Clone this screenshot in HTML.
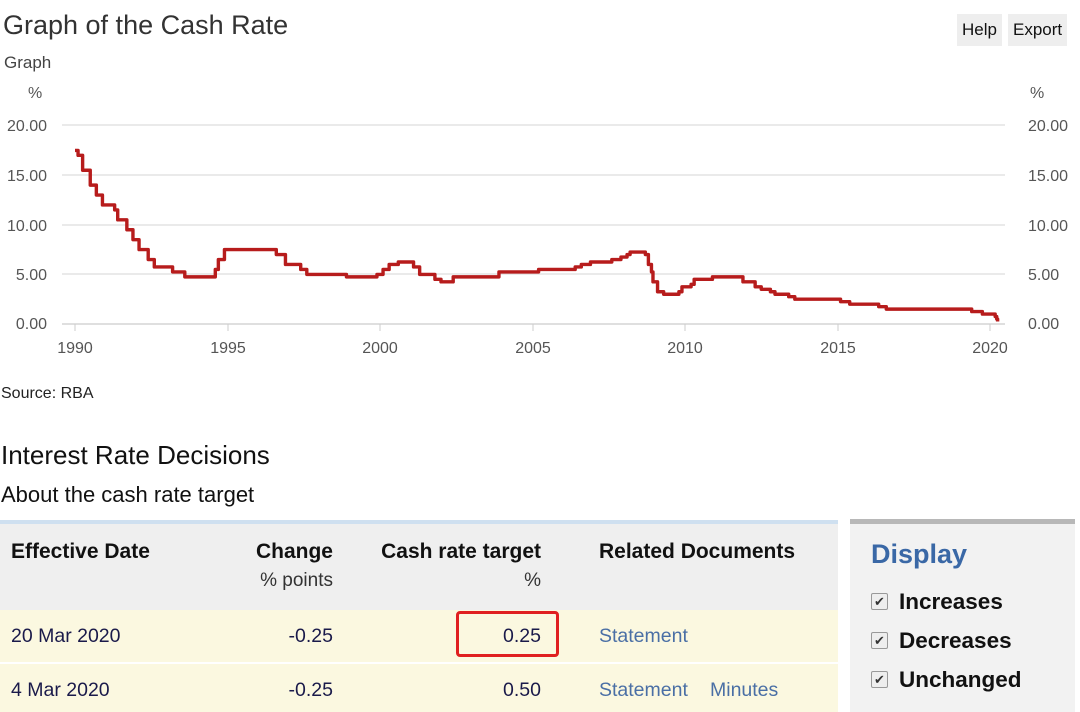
<!DOCTYPE html>
<html><head><meta charset="utf-8"><style>
body{margin:0;width:1080px;height:712px;overflow:hidden;background:#fff;font-family:"Liberation Sans",sans-serif;color:#222;position:relative}
.a{position:absolute;white-space:nowrap}
.btn{position:absolute;top:14px;height:32px;background:#eeeeee;font-size:17px;line-height:32px;padding:0 5px;color:#111}
.cb{position:absolute;left:871px;width:15px;height:15px;border:1px solid #999;background:#eee;border-radius:2px;font-size:13px;line-height:15px;text-align:center;color:#333}
.dl{position:absolute;left:899px;font-size:22.5px;font-weight:bold;color:#111}
.h{font-size:21px;font-weight:bold;color:#111}
.c{font-size:19.5px;color:#1a1a4a}
</style></head><body>
<div class="a" style="left:3px;top:10px;font-size:27px;color:#333">Graph of the Cash Rate</div>
<div class="btn" style="left:957px">Help</div>
<div class="btn" style="left:1008px">Export</div>
<div class="a" style="left:4px;top:53px;font-size:17px;color:#444">Graph</div>
<svg class="a" style="left:0;top:0" width="1080" height="380" font-family="Liberation Sans, sans-serif" font-size="16" fill="#555">
<text x="28" y="98">%</text><text x="1030" y="98">%</text>
<g stroke="#dedede" stroke-width="1.2">
<line x1="62" y1="125" x2="1005" y2="125"/><line x1="62" y1="175" x2="1005" y2="175"/><line x1="62" y1="225" x2="1005" y2="225"/><line x1="62" y1="274" x2="1005" y2="274"/></g>
<line x1="62" y1="324" x2="1005" y2="324" stroke="#ccc" stroke-width="1.2"/>
<g text-anchor="end"><text x="47" y="131">20.00</text><text x="47" y="181">15.00</text><text x="47" y="231">10.00</text><text x="47" y="280">5.00</text><text x="47" y="329">0.00</text></g>
<g><text x="1028" y="131">20.00</text><text x="1028" y="181">15.00</text><text x="1028" y="231">10.00</text><text x="1028" y="280">5.00</text><text x="1028" y="329">0.00</text></g>
<g stroke="#ccc"><line x1="75" y1="324" x2="75" y2="331"/><line x1="228" y1="324" x2="228" y2="331"/><line x1="380" y1="324" x2="380" y2="331"/><line x1="533" y1="324" x2="533" y2="331"/><line x1="685" y1="324" x2="685" y2="331"/><line x1="838" y1="324" x2="838" y2="331"/><line x1="990" y1="324" x2="990" y2="331"/></g>
<g text-anchor="middle"><text x="75" y="353">1990</text><text x="228" y="353">1995</text><text x="380" y="353">2000</text><text x="533" y="353">2005</text><text x="685" y="353">2010</text><text x="838" y="353">2015</text><text x="990" y="353">2020</text></g>
<polyline id="ln" fill="none" stroke="#b71c1c" stroke-width="3.4" stroke-linejoin="round" points=""/>
</svg>
<script>
var d=[[1990,17.5],[1990.1,17],[1990.25,15.5],[1990.5,14],[1990.7,13],[1990.9,12],[1991.3,11.5],[1991.4,10.5],[1991.7,9.5],[1991.9,8.5],[1992.1,7.5],[1992.4,6.5],[1992.6,5.75],[1993.2,5.25],[1993.6,4.75],[1994.6,5.5],[1994.7,6.5],[1994.9,7.5],[1996.6,7],[1996.9,6],[1997.4,5.5],[1997.6,5],[1998.9,4.75],[1999.9,5],[2000.1,5.5],[2000.3,6],[2000.6,6.25],[2001.1,5.75],[2001.3,5],[2001.8,4.5],[2002,4.25],[2002.4,4.75],[2003.9,5.25],[2005.2,5.5],[2006.4,5.75],[2006.6,6],[2006.9,6.25],[2007.6,6.5],[2007.9,6.75],[2008.1,7],[2008.2,7.25],[2008.7,7],[2008.8,6],[2008.9,5.25],[2008.95,4.25],[2009.1,3.25],[2009.3,3],[2009.8,3.25],[2009.9,3.75],[2010.2,4],[2010.3,4.5],[2010.9,4.75],[2011.9,4.25],[2012.3,3.75],[2012.5,3.5],[2012.8,3.25],[2012.95,3],[2013.4,2.75],[2013.6,2.5],[2015.1,2.25],[2015.4,2],[2016.35,1.75],[2016.6,1.5],[2019.4,1.25],[2019.75,1],[2020.17,0.75],[2020.22,0.5],[2020.25,0.25]];
var p=[];function X(y){return 75+(y-1990)*30.5}function Y(v){return 324-v*9.92}
for(var i=0;i<d.length;i++){if(i>0)p.push(X(d[i][0])+","+Y(d[i-1][1]));p.push(X(d[i][0])+","+Y(d[i][1]));}
document.getElementById("ln").setAttribute("points",p.join(" "));
</script>
<div class="a" style="left:1px;top:385px;font-size:16px;color:#222">Source: RBA</div>
<div class="a" style="left:1px;top:440px;font-size:26px;color:#111">Interest Rate Decisions</div>
<div class="a" style="left:1px;top:482px;font-size:22px;color:#111">About the cash rate target</div>
<div class="a" style="left:0;top:520px;width:838px;height:4px;background:#cfe0f0"></div>
<div class="a" style="left:0;top:524px;width:838px;height:86px;background:#efefef"></div>
<div class="a" style="left:0;top:610px;width:838px;height:52px;background:#fbf8e0"></div>
<div class="a" style="left:0;top:664px;width:838px;height:48px;background:#fbf8e0"></div>
<div class="a h" style="left:11px;top:540px">Effective Date</div>
<div class="a h" style="right:747px;top:540px">Change</div>
<div class="a" style="right:747px;top:570px;font-size:19px;color:#333">% points</div>
<div class="a h" style="right:539px;top:540px">Cash rate target</div>
<div class="a" style="right:539px;top:570px;font-size:19px;color:#333">%</div>
<div class="a h" style="left:599px;top:540px">Related Documents</div>
<div class="a c" style="left:11px;top:625px">20 Mar 2020</div>
<div class="a c" style="right:747px;top:625px">-0.25</div>
<div class="a c" style="right:539px;top:625px">0.25</div>
<div class="a c" style="left:599px;top:625px;color:#4a6fa5">Statement</div>
<div class="a" style="left:456px;top:611px;width:97px;height:40px;border:3px solid #e02020;border-radius:4px"></div>
<div class="a c" style="left:11px;top:679px">4 Mar 2020</div>
<div class="a c" style="right:747px;top:679px">-0.25</div>
<div class="a c" style="right:539px;top:679px">0.50</div>
<div class="a c" style="left:599px;top:679px;color:#4a6fa5">Statement</div>
<div class="a c" style="left:710px;top:679px;color:#4a6fa5">Minutes</div>
<div class="a" style="left:850px;top:519px;width:225px;height:5px;background:#b8b8b8"></div>
<div class="a" style="left:850px;top:524px;width:225px;height:188px;background:#f2f2f2"></div>
<div class="a" style="left:871px;top:539px;font-size:27px;font-weight:bold;color:#3a68a6">Display</div>
<div class="cb" style="top:593px">✔</div><div class="dl" style="top:589px">Increases</div>
<div class="cb" style="top:632px">✔</div><div class="dl" style="top:628px">Decreases</div>
<div class="cb" style="top:671px">✔</div><div class="dl" style="top:667px">Unchanged</div>
</body></html>
